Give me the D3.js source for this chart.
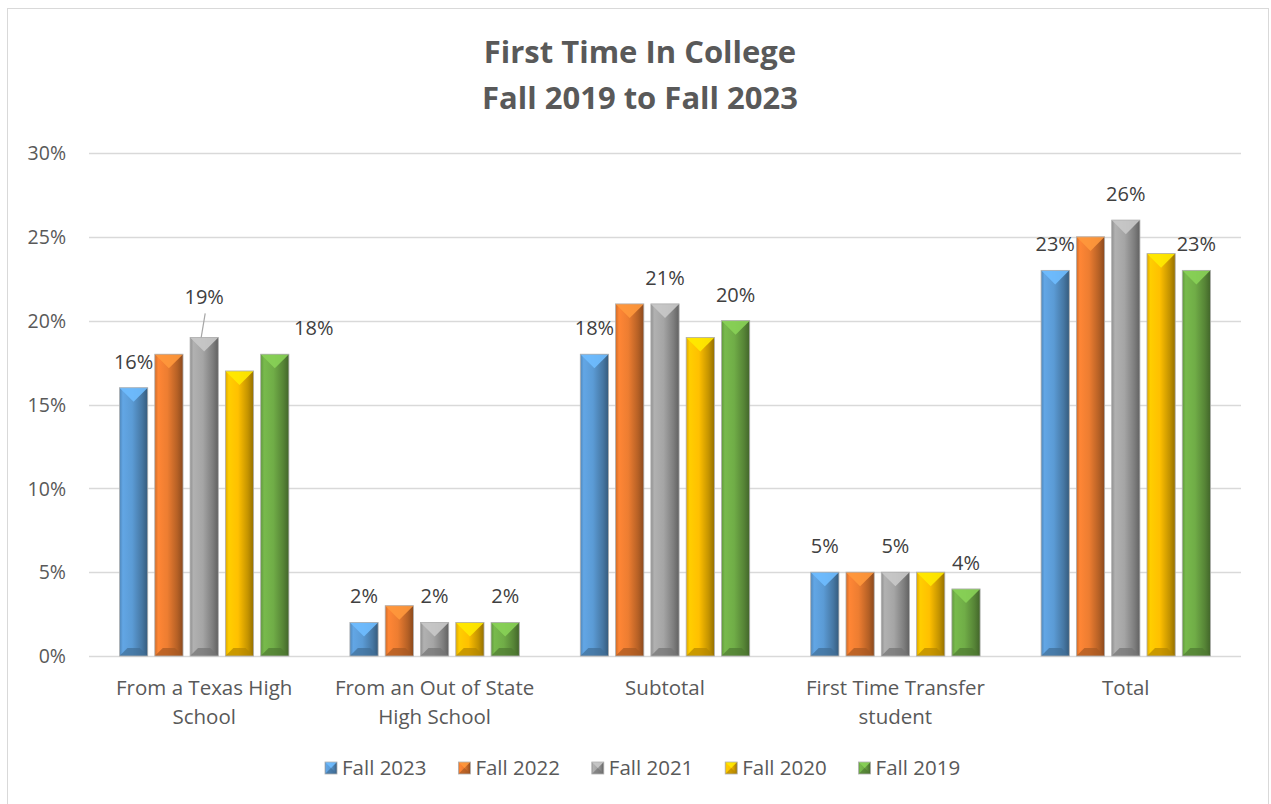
<!DOCTYPE html>
<html>
<head>
<meta charset="utf-8">
<script src="https://cdn.jsdelivr.net/npm/d3@7"></script>
<style>
  html, body { margin: 0; padding: 0; background: #fff; }
  svg { display: block; font-family: "Open Sans", "Noto Sans", sans-serif; }
</style>
</head>
<body>
<svg id="chart" width="1271" height="804"></svg>
<script>
// ---- data ----
const categories = [
  ["From a Texas High", "School"],
  ["From an Out of State", "High School"],
  ["Subtotal"],
  ["First Time Transfer", "student"],
  ["Total"]
];
const seriesNames = ["Fall 2023", "Fall 2022", "Fall 2021", "Fall 2020", "Fall 2019"];
const fall2023 = [0.16, 0.02, 0.18, 0.05, 0.23];
const fall2022 = [0.18, 0.03, 0.21, 0.05, 0.25];
const fall2021 = [0.19, 0.02, 0.21, 0.05, 0.26];
const fall2020 = [0.17, 0.02, 0.19, 0.05, 0.24];
const fall2019 = [0.18, 0.02, 0.20, 0.04, 0.23];
const seriesValues = [fall2023, fall2022, fall2021, fall2020, fall2019];
const labeledSeries = ["Fall 2023", "Fall 2021", "Fall 2019"];
const yTicks = [0, 0.05, 0.10, 0.15, 0.20, 0.25, 0.30];
const titleLines = ["First Time In College", "Fall 2019 to Fall 2023"];

// ---- styling ----
const colors = ["#5B9BD5", "#ED7D31", "#A5A5A5", "#FFC000", "#70AD47"];
const textColor = "#595959";
// label adjustments (style only)
const labelAdjust = { "0|2": { dy: -14, leader: true }, "0|4": { dx: 39 } };

const svg = d3.select("#chart");
const plot = { left: 89, right: 1241, top: 153, bottom: 656 };

// chart border
svg.append("rect").attr("x", 7.5).attr("y", 8.5).attr("width", 1261).attr("height", 810)
  .attr("fill", "#fff").attr("stroke", "#d9d9d9").attr("stroke-width", 1);

// title
svg.append("g").selectAll("text").data(titleLines).join("text")
  .attr("x", 640).attr("y", (d, i) => 63 + i * 46)
  .attr("text-anchor", "middle").attr("font-weight", "bold")
  .attr("font-size", 31).attr("fill", textColor).text(d => d);

const catKeys = categories.map((c, i) => i);
const x0 = d3.scaleBand().domain(catKeys).range([plot.left, plot.right]).padding(0);
const x1 = d3.scaleBand().domain(seriesNames).range([0, x0.bandwidth()])
  .paddingInner(0.2).paddingOuter(0.864);
const y = d3.scaleLinear().domain([0, 0.30]).range([plot.bottom, plot.top]);

// gridlines
svg.append("g").selectAll("line").data(yTicks).join("line")
  .attr("x1", plot.left).attr("x2", plot.right)
  .attr("y1", d => Math.round(y(d)) + 0.5).attr("y2", d => Math.round(y(d)) + 0.5)
  .attr("stroke", "#d9d9d9").attr("stroke-width", 1.3);

// y axis labels
const yAxis = d3.axisLeft(y).tickValues(yTicks).tickFormat(d3.format(".0%")).tickSize(0).tickPadding(0);
const yg = svg.append("g").attr("transform", `translate(66,0)`).call(yAxis);
yg.select(".domain").remove();
yg.selectAll("text").attr("font-size", 19.5).attr("fill", textColor)
  .attr("font-family", "'Open Sans', sans-serif").attr("dy", "0.35em");

// gradients
const defs = svg.append("defs");
colors.forEach((c, i) => {
  const base = d3.color(c);
  const g = defs.append("linearGradient").attr("id", "grad" + i)
    .attr("x1", "0%").attr("x2", "100%").attr("y1", "0%").attr("y2", "0%");
  g.append("stop").attr("offset", "0%").attr("stop-color", base.darker(0.4));
  g.append("stop").attr("offset", "12%").attr("stop-color", base.brighter(0.2));
  g.append("stop").attr("offset", "45%").attr("stop-color", base);
  g.append("stop").attr("offset", "80%").attr("stop-color", base.darker(0.75));
  g.append("stop").attr("offset", "100%").attr("stop-color", base.darker(1.5));
});

function drawBevelBar(g, bx, by, bw, bh, i) {
  const base = d3.color(colors[i]);
  g.append("rect").attr("x", bx).attr("y", by).attr("width", bw).attr("height", bh)
    .attr("fill", `url(#grad${i})`);
  const d = Math.min(bw / 2, bh / 2);
  // top highlight triangle
  g.append("path")
    .attr("d", `M${bx},${by}L${bx + bw},${by}L${bx + bw / 2},${by + d}Z`)
    .attr("fill", base.brighter(0.55)).attr("opacity", 0.9);
  // bottom shade
  const bd = Math.min(d, 8);
  g.append("path")
    .attr("d", `M${bx},${by + bh}L${bx + bw},${by + bh}L${bx + bw - bd},${by + bh - bd}L${bx + bd},${by + bh - bd}Z`)
    .attr("fill", base.darker(1.0)).attr("opacity", 0.7);
  g.append("rect").attr("x", bx).attr("y", by).attr("width", bw).attr("height", bh)
    .attr("fill", "none").attr("stroke", "#b0b0b0").attr("stroke-width", 0.8);
}

// bars
const barsG = svg.append("g");
seriesNames.forEach((s, si) => {
  seriesValues[si].forEach((v, ci) => {
    const bx = x0(ci) + x1(s);
    const by = y(v);
    drawBevelBar(barsG, bx, by, x1.bandwidth(), y(0) - by, si);
  });
});

// data labels
const labG = svg.append("g");
seriesNames.forEach((s, si) => {
  if (!labeledSeries.includes(s)) return;
  seriesValues[si].forEach((v, ci) => {
    const adj = labelAdjust[ci + "|" + si] || {};
    const cx = x0(ci) + x1(s) + x1.bandwidth() / 2;
    const lx = cx + (adj.dx || 0);
    const ly = y(v) - 26 + (adj.dy || 0);
    labG.append("text").attr("x", lx).attr("y", ly).attr("dy", "0.35em")
      .attr("text-anchor", "middle").attr("font-size", 20).attr("fill", "#404040")
      .text(d3.format(".0%")(v));
    if (adj.leader) {
      labG.append("line").attr("x1", lx + 1).attr("y1", ly + 16)
        .attr("x2", cx - 3).attr("y2", y(v))
        .attr("stroke", "#a6a6a6").attr("stroke-width", 1.2);
    }
  });
});

// category labels
const catG = svg.append("g");
categories.forEach((lines, ci) => {
  const cx = x0(ci) + x0.bandwidth() / 2;
  const t = catG.append("text").attr("text-anchor", "middle").attr("font-size", 20.5).attr("fill", textColor);
  lines.forEach((ln, li) => {
    t.append("tspan").attr("x", cx).attr("y", 695 + li * 28.5).text(ln);
  });
});

// legend
const legend = svg.append("g");
const legendStart = 325, legendStep = 133.4, legendY = 768;
seriesNames.forEach((s, i) => {
  const lx = legendStart + i * legendStep;
  const lg = legend.append("g");
  drawBevelBar(lg, lx, legendY - 6, 12, 12, i);
  lg.append("text").attr("x", lx + 17).attr("y", legendY).attr("dy", "0.35em")
    .attr("font-size", 20.5).attr("fill", textColor).text(s);
});
</script>
</body>
</html>
